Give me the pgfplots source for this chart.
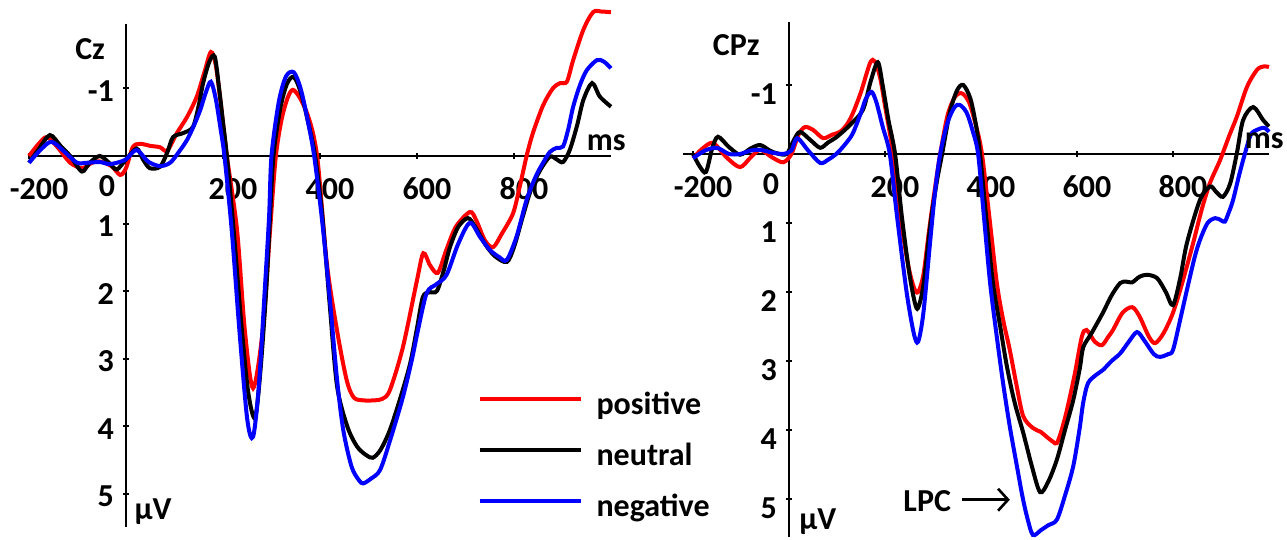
\documentclass[border=0pt]{standalone}
\usepackage{fontspec}
\setmainfont{Carlito}
\usepackage{pgfplots}
\pgfplotsset{compat=1.18}
\usetikzlibrary{arrows.meta}
\newcommand{\f}{\fontsize{16}{19}\selectfont\bfseries}
\definecolor{pr}{RGB}{255,0,0}
\definecolor{pb}{RGB}{0,0,255}
\pgfplotsset{erp/.style={
  scale only axis, axis lines=middle, axis line style={-, line width=1.4pt, black},
  y dir=reverse, clip=false, anchor=origin,
  xtick={-200,200,400,600,800}, xticklabels={-200,200,400,600,800},
  ytick={-1,1,2,3,4,5}, yticklabels={-1,1,2,3,4,5},
  tick style={line width=1pt, black}, major tick length=3pt,
  x tick label style={font=\f, anchor=center, yshift=-15pt, xshift=5pt},
  y tick label style={font=\f, anchor=east, xshift=-1pt},
}}
\begin{document}
\begin{tikzpicture}
\path[use as bounding box] (0,0) rectangle (643.5pt,270pt);
% ---------------- Cz ----------------
\begin{axis}[erp, at={(63pt,192pt)}, width=291pt, height=251.8pt,
  xmin=-200, xmax=1000, ymin=-1.96, ymax=5.5,
  y tick label style={yshift=-1.5pt},
  legend style={at={(axis cs:724,4.47)}, anchor=west, draw=none, fill=none, font=\f,
    inner sep=0pt, row sep=9.5pt, column sep=7pt,
    nodes={inner sep=0pt, text height=12pt, text depth=4pt}},
  legend cell align=left,
  legend image code/.code={\draw[#1] (0pt,4pt) -- (50.5pt,4pt);}]
\addplot[pr, line width=2pt, smooth] coordinates {
(-200,0.00) (-180,-0.18) (-163,-0.28) (-140,-0.12) (-115,0.10) (-90,0.18) (-70,0.10)
(-54,0.08) (-30,0.15) (-12,0.28) (0,0.18) (14,-0.13) (29,-0.18) (50,-0.15) (70,-0.13)
(85,-0.08) (105,-0.34) (126,-0.58) (146,-0.88) (162,-1.25) (175,-1.54) (185,-1.35)
(195,-0.8) (208,0.0) (229,1.1) (245,2.58) (262,3.44) (282,2.58) (297,1.1) (309,0.0)
(324,-0.64) (344,-0.98) (373,-0.64) (394,0.0) (414,1.58) (435,2.58) (455,3.32)
(470,3.58) (490,3.62) (510,3.62) (528,3.6) (544,3.47) (571,2.83) (600,1.84) (613,1.44)
(627,1.62) (643,1.73) (660,1.4) (680,1.05) (709,0.83) (722,0.95) (740,1.25) (757,1.35)
(775,1.15) (798,0.85) (812,0.45) (826,0.0) (839,-0.34) (860,-0.75) (880,-1.0)
(895,-1.08) (909,-1.1) (922,-1.42) (943,-1.87) (963,-2.13) (980,-2.14) (1000,-2.13)};
\addlegendentry{positive}
\addplot[black, line width=2pt, smooth] coordinates {
(-200,0.10) (-180,-0.1) (-157,-0.31) (-135,-0.15) (-115,0.0) (-91,0.23) (-75,0.1)
(-54,0.0) (-35,0.1) (-19,0.2) (0,0.05) (22,-0.11) (35,0.05) (49,0.18) (70,0.16)
(85,-0.05) (97,-0.28) (118,-0.34) (138,-0.43) (150,-0.75) (159,-1.08) (172,-1.4)
(183,-1.47) (192,-1.0) (200,-0.5) (208,0.0) (222,1.1) (238,2.5) (252,3.5) (266,3.88)
(277,3.2) (289,2.0) (297,0.9) (304,0.0) (318,-0.7) (332,-1.07) (346,-1.17) (360,-0.95)
(374,-0.55) (390,0.0) (405,0.9) (420,2.2) (435,3.4) (456,4.0) (476,4.3) (495,4.43)
(509,4.47) (525,4.35) (544,4.06) (565,3.6) (586,3.07) (600,2.55) (612,2.09) (625,2.02)
(641,2.0) (655,1.7) (668,1.35) (685,1.05) (705,0.92) (720,1.05) (740,1.3) (760,1.48)
(785,1.57) (800,1.35) (818,0.9) (835,0.5) (854,0.21) (874,0.01) (888,0.05) (901,0.09)
(915,-0.09) (930,-0.45) (943,-0.83) (961,-1.08) (977,-0.88) (1000,-0.73)};
\addlegendentry{neutral}
\addplot[pb, line width=2pt, smooth] coordinates {
(-200,0.10) (-175,-0.1) (-153,-0.21) (-125,-0.05) (-101,0.10) (-80,0.10) (-54,0.09)
(-35,0.12) (-19,0.10) (0,0.05) (22,-0.09) (45,0.08) (70,0.15) (91,0.10) (108,-0.05)
(126,-0.24) (140,-0.45) (153,-0.68) (165,-0.95) (175,-1.1) (185,-0.85) (195,-0.4)
(203,0.0) (218,1.1) (234,2.6) (250,3.9) (262,4.16) (274,3.4) (286,2.0) (295,0.9)
(300,0.0) (315,-0.8) (330,-1.18) (346,-1.24) (360,-1.0) (374,-0.55) (388,0.0)
(405,1.0) (420,2.1) (435,3.3) (448,4.06) (465,4.6) (480,4.8) (489,4.85) (505,4.78)
(524,4.65) (545,4.2) (571,3.57) (590,3.0) (602,2.58) (620,2.03) (640,1.9) (661,1.76)
(685,1.3) (709,0.99) (730,1.2) (750,1.39) (770,1.5) (785,1.54) (805,1.2) (826,0.65)
(845,0.3) (860,0.1) (874,-0.06) (888,-0.12) (901,-0.14) (912,-0.4) (922,-0.73)
(936,-1.05) (950,-1.27) (971,-1.42) (985,-1.4) (1000,-1.3)};
\addlegendentry{negative}
\node[font=\f] at (axis cs:-74,-1.59) {Cz};
\node[font=\f] at (axis cs:990,-0.19) {ms};
\node[font=\f] at (axis cs:56,5.27) {µV};
\node[font=\f, xshift=-9.5pt, yshift=-15pt] at (axis cs:0,0) {0};
\end{axis}
% ---------------- CPz ----------------
\begin{axis}[erp, at={(394.5pt,193pt)}, width=292.8pt, height=257.4pt,
  xmin=-220, xmax=1000, ymin=-1.91, ymax=5.55,
  y tick label style={yshift=-4.5pt}]
\addplot[pr, line width=2pt, smooth] coordinates {
(-200,0.06) (-180,-0.08) (-158,-0.16) (-130,0.05) (-102,0.19) (-80,0.05) (-60,-0.06)
(-35,0.05) (-12,0.12) (5,0.0) (20,-0.28) (33,-0.39) (50,-0.35) (71,-0.23) (90,-0.28)
(106,-0.32) (120,-0.42) (133,-0.59) (150,-0.9) (169,-1.32) (179,-1.34) (190,-1.1)
(200,-0.7) (217,0.0) (232,0.9) (248,1.6) (260,1.93) (269,2.0) (280,1.75) (292,1.1)
(304,0.5) (315,0.0) (330,-0.55) (345,-0.82) (360,-0.88) (375,-0.75) (390,-0.4)
(402,0.0) (418,0.95) (433,1.87) (446,2.4) (460,2.84) (474,3.35) (488,3.8) (508,3.97)
(525,4.03) (537,4.1) (550,4.17) (558,4.19) (568,4.0) (579,3.71) (595,3.2) (610,2.65)
(620,2.55) (637,2.72) (652,2.77) (665,2.65) (675,2.55) (695,2.3) (715,2.22) (730,2.35)
(750,2.65) (763,2.74) (780,2.6) (800,2.3) (820,1.85) (842,1.29) (860,0.8) (877,0.42)
(898,0.09) (918,-0.28) (933,-0.54) (954,-0.97) (975,-1.22) (990,-1.27) (1000,-1.26)};
\addplot[black, line width=2pt, smooth] coordinates {
(-200,0.0) (-186,0.18) (-173,0.26) (-160,-0.08) (-148,-0.25) (-125,-0.1) (-102,0.01)
(-80,-0.08) (-60,-0.13)
(-40,-0.05) (-25,-0.01) (-5,0.0) (10,-0.2) (23,-0.32) (45,-0.2) (65,-0.09) (82,-0.17)
(100,-0.25) (127,-0.42) (154,-0.64) (170,-1.05) (185,-1.33) (195,-1.0) (207,-0.5)
(221,0.0) (235,0.9) (250,1.7) (262,2.15) (269,2.23) (280,1.9) (295,1.0) (308,0.4)
(319,0.0) (335,-0.6) (350,-0.92) (363,-1.0) (378,-0.8) (390,-0.4) (398,0.0) (412,1.0)
(425,1.87) (440,2.5) (454,3.08) (470,3.6) (488,4.04) (505,4.5) (523,4.9) (540,4.75)
(558,4.43) (575,4.0) (592,3.57) (606,3.1) (613,2.8) (630,2.6) (654,2.3) (672,2.05)
(690,1.87) (703,1.85) (715,1.86) (730,1.78) (746,1.75) (767,1.8) (785,2.0) (800,2.19)
(815,1.8) (829,1.29) (856,0.67) (877,0.47) (890,0.55) (904,0.62) (919,0.43) (933,-0.01)
(946,-0.49) (967,-0.68) (988,-0.49) (1000,-0.4)};
\addplot[pb, line width=2pt, smooth] coordinates {
(-200,0.06) (-175,-0.05) (-150,-0.09) (-125,0.0) (-102,0.0) (-80,-0.05) (-60,-0.06)
(-35,-0.02) (-12,0.0) (5,-0.05) (17,-0.23) (40,-0.05) (65,0.13) (82,0.08) (100,-0.01)
(118,-0.15) (133,-0.3) (150,-0.6) (160,-0.8) (172,-0.9) (182,-0.75) (195,-0.4)
(210,0.0) (225,0.9) (245,2.0) (260,2.6) (269,2.72) (280,2.3) (295,1.2) (305,0.5)
(315,0.0) (330,-0.45) (345,-0.68) (356,-0.71) (370,-0.6) (382,-0.35) (394,0.0)
(406,0.9) (419,1.87) (432,2.6) (446,3.32) (460,3.95) (475,4.53) (486,4.95) (496,5.26)
(508,5.52) (525,5.45) (540,5.38) (558,5.3) (575,4.95) (592,4.53) (605,4.0) (613,3.6)
(623,3.32) (640,3.2) (654,3.13) (672,3.0) (690,2.89) (708,2.72) (725,2.58) (740,2.7)
(760,2.9) (773,2.94) (790,2.9) (800,2.84) (815,2.4) (829,1.97) (845,1.5) (856,1.25)
(872,1.0) (888,0.93) (900,0.96) (908,0.98) (916,0.85) (925,0.67) (938,0.3) (950,-0.01)
(962,-0.28) (975,-0.35) (990,-0.38) (1000,-0.32)};
\node[font=\f] at (axis cs:-110,-1.58) {CPz};
\node[font=\f] at (axis cs:990,-0.19) {ms};
\node[font=\f] at (axis cs:60,5.33) {µV};
\node[font=\f] at (axis cs:288,5.03) {LPC};
\node[font=\f, xshift=-9pt, yshift=-15pt] at (axis cs:0,0) {0};
\draw[line width=1.3pt, -{Straight Barb[length=5pt,width=11pt]}] (axis cs:360,5.01) -- (axis cs:460,5.01);
\end{axis}
\end{tikzpicture}
\end{document}
